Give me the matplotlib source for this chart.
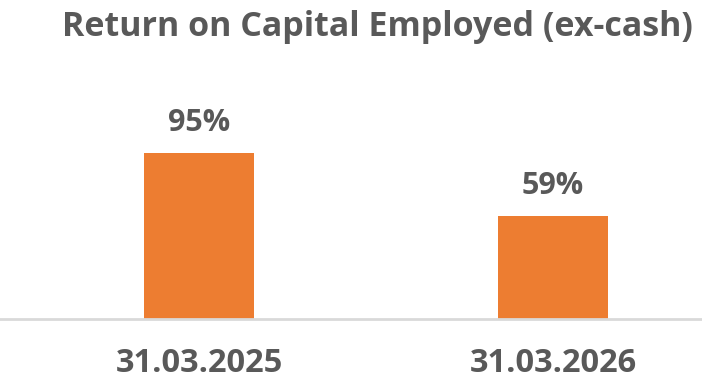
import matplotlib
matplotlib.use("Agg")
import matplotlib.pyplot as plt

# values
dates = ["31.03.2025", "31.03.2026"]
roce = [95, 59]

bar_color = "#ED7D31"
text_color = "#595959"
label_font = "Open Sans"
title_font = "Open Sans"

W, H = 702, 382
fig = plt.figure(figsize=(W / 100, H / 100), dpi=100)

# axes placed in pixel terms: baseline at y=319, 100% at y=144
ax = fig.add_axes([0, (H - 319) / H, 1, 175 / H])

x = range(len(dates))
ax.bar(x, roce, width=0.313, color=bar_color, zorder=2)

ax.set_xlim(-0.562, 1.421)
ax.set_ylim(0, 100)

for xi, v in zip(x, roce):
    ax.annotate(f"{v}%", (xi, v), xytext=(0, 16), textcoords="offset points",
                ha="center", va="baseline", fontsize=22, fontweight="bold",
                family=label_font, color=text_color)

ax.set_xticks(list(x))
ax.set_xticklabels(dates, fontsize=23.5, fontweight="bold", family=label_font,
                   color=text_color, va="baseline")
ax.tick_params(axis="x", length=0, pad=38)
ax.set_yticks([])

for side in ["top", "right", "left"]:
    ax.spines[side].set_visible(False)
ax.spines["bottom"].set_color("#D9D9D9")
ax.spines["bottom"].set_linewidth(2)
ax.patch.set_alpha(0)

fig.text(377 / W, 1 - 36 / H, "Return on Capital Employed (ex-cash)",
         ha="center", va="baseline", fontsize=24.5, fontweight="bold",
         family=title_font, color=text_color)

fig.savefig("out.png", dpi=100)
